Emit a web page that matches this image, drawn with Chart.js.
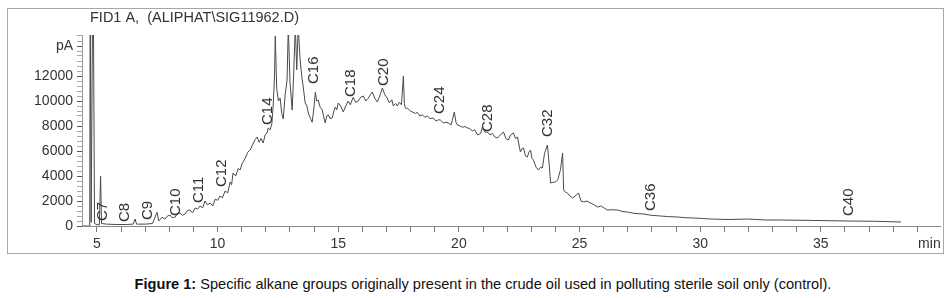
<!DOCTYPE html>
<html>
<head>
<meta charset="utf-8">
<script src="https://cdn.jsdelivr.net/npm/chart.js@4/dist/chart.umd.min.js"></script>
<style>
    body { margin: 0; background: #fff; width: 949px; height: 298px; overflow: hidden; font-family: "Liberation Sans", Arial, sans-serif; }
    #frame { position: absolute; left: 7px; top: 8px; width: 935px; height: 244px; border: 1px solid #a8a8a8; }
    #wrap { position: absolute; left: 0; top: 0; width: 949px; height: 258px; }
    #caption { position: absolute; left: 0; top: 276px; width: 966px; text-align: center; font-size: 14.6px; color: #111; }
</style>
</head>
<body>
<div id="frame"></div>
<div id="wrap"><canvas id="chart1" width="949" height="258"></canvas></div>
<div id="caption"><b>Figure 1:</b> Specific alkane groups originally present in the crude oil used in polluting sterile soil only (control).</div>
<script>
// retention time (min) and detector signal (pA)
const times = [
    4.40, 4.70, 4.72, 4.76, 4.82, 4.85, 4.90, 5.00, 5.10, 5.15, 5.19, 5.40, 5.80, 6.20, 6.50, 6.58, 6.64, 7.00, 7.30, 7.49,
    7.56, 7.61, 7.70, 7.82, 7.92, 8.03, 8.12, 8.24, 8.34, 8.44, 8.54, 8.65, 8.75, 8.86, 8.96, 9.07, 9.17, 9.27, 9.38, 9.48,
    9.58, 9.69, 9.80, 9.90, 10.00, 10.10, 10.20, 10.31, 10.42, 10.52, 10.58, 10.64, 10.75, 10.85, 10.93, 11.02, 11.14, 11.25, 11.35, 11.45,
    11.55, 11.64, 11.72, 11.80, 11.89, 11.97, 12.05, 12.10, 12.18, 12.25, 12.30, 12.36, 12.39, 12.45, 12.52, 12.59, 12.66, 12.72, 12.80, 12.88,
    12.93, 13.00, 13.09, 13.15, 13.22, 13.28, 13.34, 13.42, 13.50, 13.55, 13.63, 13.70, 13.76, 13.85, 13.92, 14.00, 14.05, 14.11, 14.17, 14.25,
    14.34, 14.40, 14.46, 14.52, 14.59, 14.66, 14.75, 14.82, 14.88, 14.94, 15.00, 15.10, 15.21, 15.31, 15.41, 15.50, 15.62, 15.72, 15.83, 15.93,
    16.04, 16.14, 16.24, 16.33, 16.41, 16.52, 16.62, 16.72, 16.83, 16.93, 17.03, 17.10, 17.16, 17.22, 17.28, 17.38, 17.45, 17.53, 17.62, 17.70,
    17.74, 17.78, 17.88, 17.99, 18.10, 18.20, 18.28, 18.38, 18.49, 18.59, 18.69, 18.80, 18.94, 19.05, 19.15, 19.23, 19.35, 19.46, 19.56, 19.68,
    19.81, 19.88, 19.94, 20.05, 20.15, 20.25, 20.35, 20.45, 20.56, 20.66, 20.77, 20.90, 20.98, 21.08, 21.18, 21.28, 21.39, 21.50, 21.60, 21.72,
    21.85, 21.95, 22.05, 22.15, 22.26, 22.35, 22.43, 22.50, 22.55, 22.62, 22.68, 22.76, 22.84, 22.90, 22.97, 23.03, 23.09, 23.20, 23.30, 23.38,
    23.46, 23.55, 23.67, 23.74, 23.80, 23.90, 24.00, 24.10, 24.21, 24.30, 24.34, 24.42, 24.50, 24.60, 24.71, 24.82, 24.96, 25.06, 25.17, 25.30,
    25.46, 25.60, 25.75, 25.90, 26.05, 26.16, 26.35, 26.58, 26.80, 26.99, 27.30, 27.66, 28.00, 28.36, 28.70, 29.07, 29.40, 29.73, 30.10, 30.44,
    31.20, 31.97, 32.70, 33.34, 34.50, 36.12, 37.20, 38.32
];
const signal = [
    0, 0, 18000, 300, 18000, 18000, 200, 100, 100, 4000, 200, 150, 120, 120, 150, 560, 150, 150, 200, 1100,
    400, 500, 700, 550, 800, 880, 650, 720, 1000, 1040, 850, 960, 1250, 1280, 1050, 1440, 1350, 1600, 1450, 2000,
    1700, 1840, 1600, 2160, 2050, 2400, 2250, 2800, 2650, 3520, 3300, 4240, 4000, 4600, 4480, 5000, 5400, 5900, 6080, 6500,
    6900, 7120, 6700, 7000, 6640, 7300, 7440, 7840, 7700, 8200, 9520, 12000, 15200, 11000, 10000, 10240, 9000, 8560, 10500, 11680,
    16000, 11500, 9280, 12000, 16000, 12500, 16000, 13280, 11800, 11120, 9840, 9600, 9040, 8600, 8300, 9600, 10700, 10000, 10080, 9500,
    9280, 8700, 8240, 8800, 8880, 8600, 8640, 9200, 9520, 9300, 9840, 9600, 9120, 9600, 10000, 9700, 10300, 9900, 10000, 10300,
    10400, 10000, 10200, 10500, 10720, 10200, 9920, 10400, 11040, 10500, 10240, 9900, 9920, 10100, 9600, 9800, 9600, 9900, 9700, 12000,
    9800, 9440, 9400, 9200, 9100, 9000, 9100, 8800, 8900, 8700, 8800, 8600, 8640, 8400, 8500, 8480, 8250, 8300, 8240, 8100,
    9120, 8300, 8080, 8000, 7900, 7960, 7840, 7800, 7600, 7700, 7280, 7400, 7920, 7500, 7520, 7300, 7400, 7100, 7040, 7300,
    7520, 7000, 6880, 7300, 7440, 7000, 7120, 6400, 5920, 6200, 6240, 5600, 5520, 5900, 6080, 5400, 5280, 4700, 4480, 4700,
    4640, 5800, 6480, 5000, 3440, 3500, 3520, 3700, 4500, 5840, 2880, 2700, 2640, 2400, 2240, 2400, 2640, 2000, 1920, 2000,
    1840, 1700, 1520, 1600, 1400, 1280, 1300, 1280, 1150, 1120, 1000, 960, 850, 800, 750, 720, 660, 640, 600, 560,
    520, 560, 480, 480, 450, 400, 380, 320
];

// peak annotations: name, retention time, signal level of the label foot
const labelNames = ["C7", "C8", "C9", "C10", "C11", "C12", "C14", "C16", "C18", "C20", "C24", "C28", "C32", "C36", "C40"];
const labelTimes = [5.25, 6.16, 7.12, 8.28, 9.23, 10.19, 12.10, 14.00, 15.54, 16.87, 19.23, 21.22, 23.67, 27.95, 36.16];
const labelBase = [400, 320, 480, 800, 1840, 3120, 8080, 11360, 10320, 11200, 8960, 7520, 7120, 1200, 800];

const xTickValues = [5, 10, 15, 20, 25, 30, 35, 39.5];
const xTickLabels = ["5", "10", "15", "20", "25", "30", "35", "min"];
const yTickValues = [0, 2000, 4000, 6000, 8000, 10000, 12000, 14400];
const yTickLabels = ["0", "2000", "4000", "6000", "8000", "10000", "12000", "pA"];

const chartTitle = "FID1 A,  (ALIPHAT\\SIG11962.D)";
const FONT = "'Liberation Sans', Arial, sans-serif";

const peakLabels = {
    id: "peakLabels",
    afterDatasetsDraw(chart) {
        const { ctx, scales: { x, y } } = chart;
        ctx.save();
        ctx.fillStyle = "#333";
        ctx.font = "15px " + FONT;
        ctx.textAlign = "left";
        ctx.textBaseline = "middle";
        labelNames.forEach((name, i) => {
            ctx.save();
            ctx.translate(x.getPixelForValue(labelTimes[i]), y.getPixelForValue(labelBase[i]));
            ctx.rotate(-Math.PI / 2);
            ctx.fillText(name, 0, 0);
            ctx.restore();
        });
        ctx.font = "14.5px " + FONT;
        ctx.textBaseline = "alphabetic";
        ctx.fillText(chartTitle, 90, 22);
        ctx.restore();
    }
};

const ctx = document.getElementById("chart1").getContext("2d");
new Chart(ctx, {
    type: "line",
    data: {
        datasets: [{
            data: times.map((t, i) => ({ x: t, y: signal[i] })),
            borderColor: "#4a4a4a",
            borderWidth: 1,
            pointRadius: 0,
            tension: 0
        }]
    },
    options: {
        responsive: false,
        animation: false,
        devicePixelRatio: 1,
        layout: { padding: { left: 0, right: 9, top: 35, bottom: 0 } },
        plugins: {
            legend: { display: false },
            tooltip: { enabled: false }
        },
        scales: {
            x: {
                type: "linear",
                min: 4.38,
                max: 39.94,
                afterFit: s => { s.height = 32; },
                afterBuildTicks: s => {
                    const t = [];
                    for (let v = 5; v <= 39; v++) t.push({ value: v });
                    t.push({ value: 39.5 });
                    s.ticks = t;
                },
                ticks: {
                    autoSkip: false,
                    maxRotation: 0,
                    padding: 4,
                    color: "#333",
                    font: { family: FONT, size: 14 },
                    callback: v => {
                        const k = xTickValues.indexOf(v);
                        return k >= 0 ? xTickLabels[k] : "";
                    }
                },
                grid: {
                    drawOnChartArea: false,
                    tickLength: 6,
                    tickColor: c => (c.tick && c.tick.value === 39.5) ? "rgba(0,0,0,0)" : "#777"
                },
                border: { color: "#888" }
            },
            y: {
                min: 0,
                max: 15280,
                afterFit: s => { s.width = 82; },
                afterBuildTicks: s => {
                    const t = [];
                    for (let v = 0; v <= 15200; v += 400) t.push({ value: v });
                    s.ticks = t;
                },
                ticks: {
                    autoSkip: false,
                    padding: 4,
                    color: "#333",
                    font: { family: FONT, size: 14 },
                    callback: v => {
                        const k = yTickValues.indexOf(v);
                        return k >= 0 ? yTickLabels[k] : "";
                    }
                },
                grid: {
                    drawOnChartArea: false,
                    tickLength: 5,
                    tickColor: c => (c.tick && yTickValues.includes(c.tick.value)) ? "#555" : "#aaa"
                },
                border: { color: "#999" }
            }
        }
    },
    plugins: [peakLabels]
});
</script>
</body>
</html>
